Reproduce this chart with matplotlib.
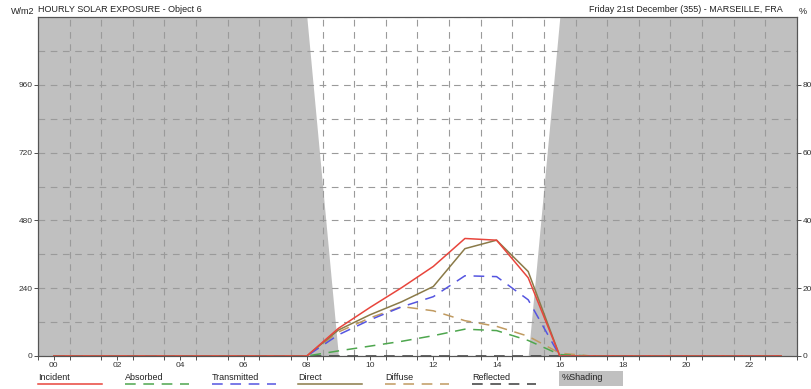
import matplotlib
matplotlib.use("Agg")
import matplotlib.pyplot as plt
import numpy as np
from matplotlib.lines import Line2D
from matplotlib.patches import Rectangle

plt.rcParams['font.family'] = ['Liberation Sans Narrow', 'Liberation Sans', 'DejaVu Sans']

# données horaires (W/m2), heures 0..23
hours = np.arange(24)
incident = [0, 0, 0, 0, 0, 0, 0, 0, 0, 98, 172, 242, 317, 416, 410, 277, 0, 0, 0, 0, 0, 0, 0, 0]
absorbed = [0, 0, 0, 0, 0, 0, 0, 0, 0, 18, 35, 52, 72, 95, 90, 55, 5, 0, 0, 0, 0, 0, 0, 0]
transmitted = [0, 0, 0, 0, 0, 0, 0, 0, 0, 75, 128, 174, 210, 284, 281, 199, 0, 0, 0, 0, 0, 0, 0, 0]
direct = [0, 0, 0, 0, 0, 0, 0, 0, 0, 92, 146, 192, 246, 380, 410, 299, 0, 0, 0, 0, 0, 0, 0, 0]
diffuse = [0, 0, 0, 0, 0, 0, 0, 0, 0, 85, 135, 175, 160, 125, 105, 70, 10, 0, 0, 0, 0, 0, 0, 0]
reflected = [0] * 24
shading = [100, 100, 100, 100, 100, 100, 100, 100, 100, 0, 0, 0, 0, 0, 0, 0,
           100, 100, 100, 100, 100, 100, 100, 100]

xlabels = ['%02d' % h for h in range(0, 24, 2)]
yticks_left = [0, 240, 480, 720, 960]
yticks_right = [0, 20, 40, 60, 80]

series = [
    ('Incident', incident, '#e8453c', '-'),
    ('Absorbed', absorbed, '#4ea64e', (0, (7, 5))),
    ('Transmitted', transmitted, '#5555e0', (0, (7, 5))),
    ('Direct', direct, '#8a7a48', '-'),
    ('Diffuse', diffuse, '#c09a60', (0, (7, 5))),
    ('Reflected', reflected, '#3a3a3a', (0, (7, 5))),
]

fig = plt.figure(figsize=(8.12, 3.89), dpi=100)
ax = fig.add_axes([38 / 812, 1 - 356 / 389, (797 - 38) / 812, (356 - 17) / 389])
ax2 = ax.twinx()

# ombrage sur l'axe de droite (%)
sx = np.r_[-0.5, hours, 23.5]
sy = np.r_[shading[0], shading, shading[-1]]
ax2.fill_between(sx, 0, sy, color='#c0c0c0', lw=0)
ax2.set_ylim(0, 100)
ax2.set_yticks(yticks_right)
ax2.tick_params(axis='y', labelsize=6, length=3, width=0.6, pad=1, colors='#333333')

ax.set_zorder(ax2.get_zorder() + 1)
ax.patch.set_visible(False)

# ordre de tracé : reflected d'abord, incident au-dessus
for name, vals, col, ls in reversed(series):
    ax.plot(hours, vals, color=col, ls=ls, lw=1.1)

ax.set_xlim(-0.5, 23.5)
ax.set_ylim(0, 1200)
ax.set_yticks(yticks_left)
ax.set_yticks(np.arange(0, 1201, 120), minor=True)
ax.set_xticks(range(0, 24, 2))
ax.set_xticklabels(xlabels)
ax.set_xticks(np.arange(-0.5, 24, 1), minor=True)
ax.tick_params(axis='both', labelsize=6, length=3, width=0.6, pad=1, colors='#333333')
ax.tick_params(axis='y', which='minor', length=0)
ax.tick_params(axis='x', which='minor', length=3, width=0.6, colors='#333333')
ax.grid(True, which='minor', color='#9a9a9a', ls=(0, (6, 5)), lw=0.8)
ax.grid(False, which='major')
ax.yaxis.grid(True, which='major', color='#9a9a9a', ls=(0, (6, 5)), lw=0.8)

for a in (ax, ax2):
    for s in a.spines.values():
        s.set_color('#555555')
        s.set_linewidth(0.8)

# textes
fig.text(38 / 812, 1 - 9 / 389, 'HOURLY SOLAR EXPOSURE - Object 6', fontsize=6.5,
         ha='left', va='center', color='#222222')
fig.text(34 / 812, 1 - 12 / 389, 'W/m2', fontsize=6.5, ha='right', va='center', color='#222222')
fig.text(783 / 812, 1 - 9 / 389, 'Friday 21st December (355) - MARSEILLE, FRA',
         fontsize=6.5, ha='right', va='center', color='#222222')
fig.text(799 / 812, 1 - 12 / 389, '%', fontsize=6.5, ha='left', va='center', color='#222222')

# légende manuelle en bas
x0 = 38
step = 86.8
for i, (name, vals, col, ls) in enumerate(series):
    xs = x0 + i * step
    fig.text(xs / 812, 1 - 377 / 389, name, fontsize=6.5, ha='left', va='center', color='#222222')
    fig.add_artist(Line2D([xs / 812, (xs + 64) / 812], [1 - 384 / 389, 1 - 384 / 389],
                          color=col, ls=ls, lw=1.1, transform=fig.transFigure))
bx = x0 + 6 * step
fig.add_artist(Rectangle((bx / 812, 1 - 386 / 389), 64 / 812, 15 / 389,
                         transform=fig.transFigure, color='#c0c0c0', lw=0))
fig.text((bx + 3) / 812, 1 - 378 / 389, '%Shading', fontsize=6.5, ha='left', va='center',
         color='#222222')

fig.savefig('out.png', dpi=100)
